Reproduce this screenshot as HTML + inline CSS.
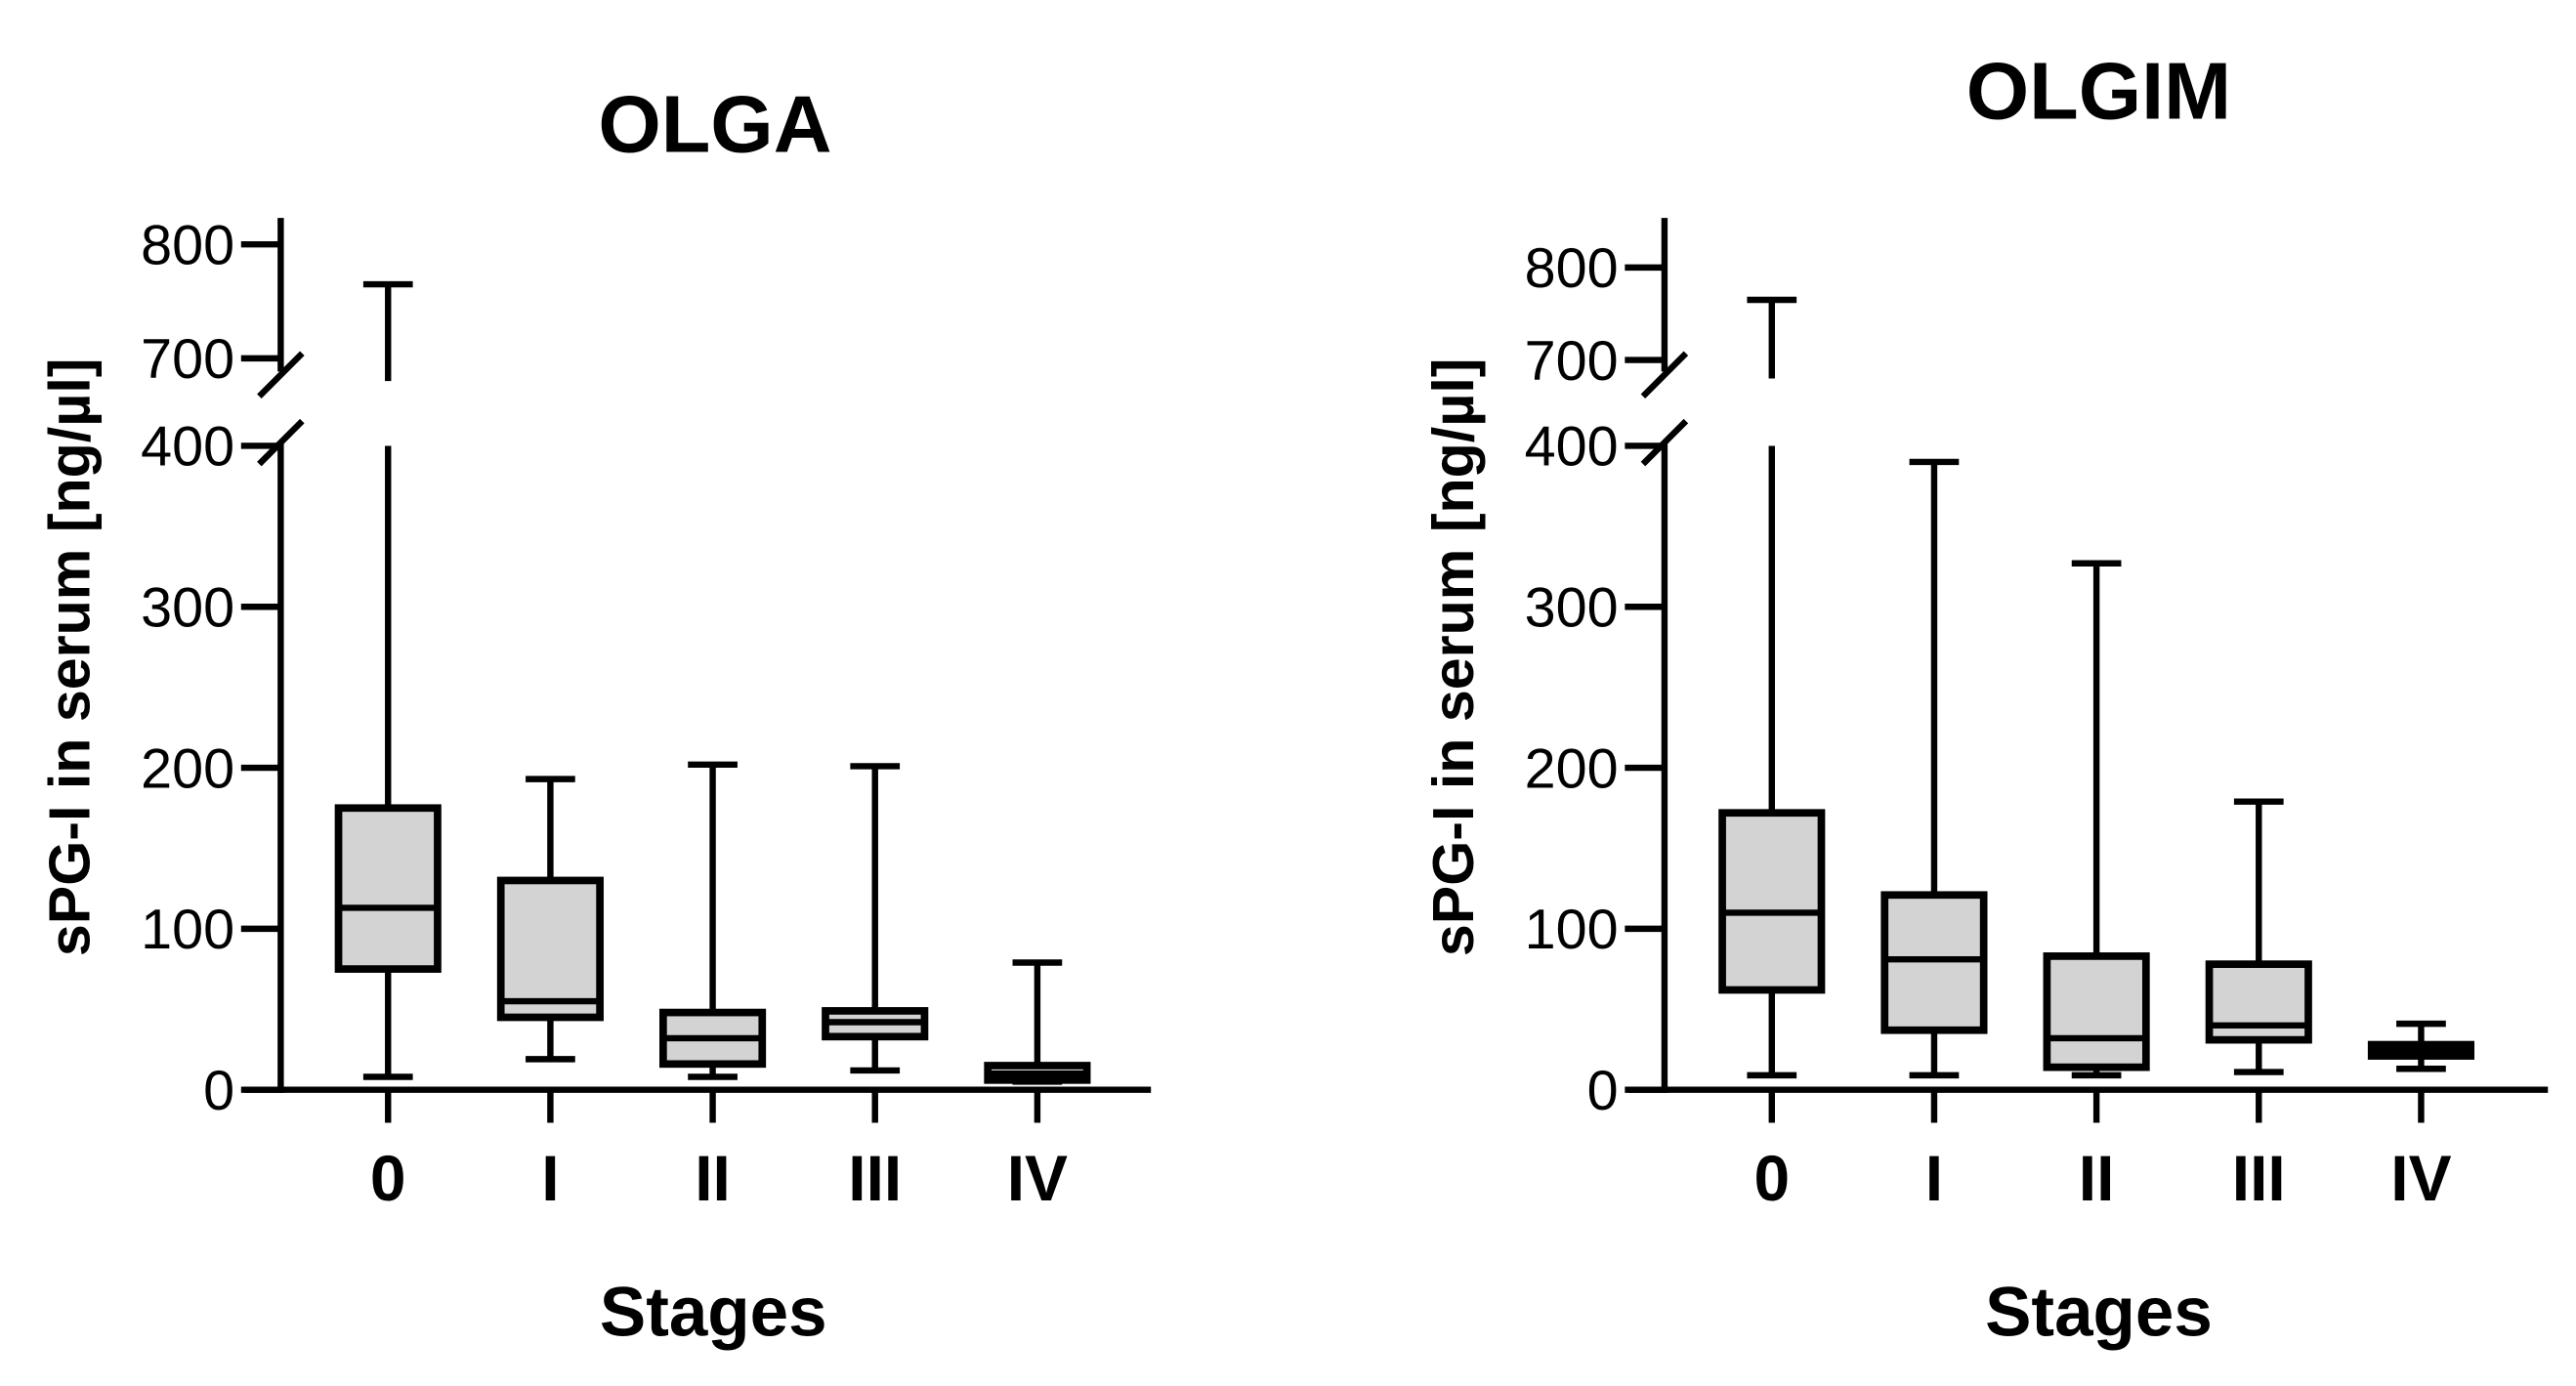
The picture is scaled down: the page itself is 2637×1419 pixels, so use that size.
<!DOCTYPE html>
<html><head><meta charset="utf-8"><style>
html,body{margin:0;padding:0;background:#fff}
svg{display:block}
text{font-family:"Liberation Sans",Arial,sans-serif;fill:#000}
</style></head><body>
<svg id="c" width="2637" height="1419" viewBox="0 0 1560 839.4"></svg>
<script>
const categories = ["0","I","II","III","IV"];
const olgaMin = [8,19,8,12,5];
const olgaQ1 = [75,45,16,33,6];
const olgaMed = [113,55,32,42,10];
const olgaQ3 = [175,130,48,49,15];
const olgaMax = [765,193,202,201,79];
const olgimMin = [9,9,9,11,13];
const olgimQ1 = [62,37,14,31,21];
const olgimMed = [110,81,32,40,25];
const olgimQ3 = [172,121,83,78,28];
const olgimMax = [765,390,327,179,41];
const lowerTicks = [0,100,200,300,400];
const upperTicks = [700,800];

const NS="http://www.w3.org/2000/svg";
const svg=document.getElementById('c');
function mk(tag,attrs,parent,text){const e=document.createElementNS(NS,tag);for(const k in attrs)e.setAttribute(k,attrs[k]);if(text!==undefined)e.textContent=text;(parent||svg).appendChild(e);return e;}

function panel(cfg,mins,q1,med,q3,maxs){
  const g=mk('g',{});
  
  
  const ax=cfg.ax, y0=660, lowScale=97.5/100;
  const yLow=v=>y0-v*lowScale;
  const yUp=v=>cfg.y700-(v-700)*cfg.upScale;
  const xC=i=>cfg.x0+i*cfg.step;
  const sw=3.8;
  const t=mk('text',{x:cfg.titleX,y:cfg.titleY,'font-size':49,'font-weight':'bold','text-anchor':'middle'},g,cfg.title);
  
  
  const ya=mk('path',{d:`M${ax},132 L${ax},225 M${ax},268 L${ax},${y0+1.9}`,stroke:'#000','stroke-width':sw,fill:'none'},g);
  
  
  const br=mk('path',{d:`M${ax-13},240 L${ax+13},214 M${ax-13},281 L${ax+13},255`,stroke:'#000','stroke-width':sw,fill:'none'},g);
  
  
  const xa=mk('line',{x1:ax-22,y1:y0,x2:cfg.xEnd,y2:y0,stroke:'#000','stroke-width':sw},g);
  
  
  lowerTicks.forEach(v=>{
    mk('line',{x1:ax-24,y1:yLow(v),x2:ax,y2:yLow(v),stroke:'#000','stroke-width':sw},g);
    const l=mk('text',{x:ax-28,y:yLow(v)+12,'font-size':34,'text-anchor':'end'},g,v);
    
    
  });
  upperTicks.forEach(v=>{
    mk('line',{x1:ax-24,y1:yUp(v),x2:ax,y2:yUp(v),stroke:'#000','stroke-width':sw},g);
    const l=mk('text',{x:ax-28,y:yUp(v)+12,'font-size':34,'text-anchor':'end'},g,v);
    
    
  });
  const yl=mk('text',{x:0,y:0,'font-size':35,'font-weight':'bold','text-anchor':'middle',transform:`translate(${cfg.ylabX},398) rotate(-90)`},g,'sPG-I in serum [ng/µl]');
  
  
  const xl=mk('text',{x:cfg.stX,y:809,'font-size':42,'font-weight':'bold','text-anchor':'middle'},g,'Stages');
  
  
  const hw=30, cap=15;
  categories.forEach((c,i)=>{
    const x=xC(i);
    mk('line',{x1:x,y1:y0,x2:x,y2:y0+20,stroke:'#000','stroke-width':sw},g);
    const cl=mk('text',{x:x,y:727,'font-size':39,'font-weight':'bold','text-anchor':'middle'},g,c);
    
    
    const bg=mk('g',{},g);
    
    
    const mx=maxs[i];
    const topLow = mx>400? yLow(400): yLow(mx);
    mk('line',{x1:x,y1:yLow(q3[i]),x2:x,y2:topLow,stroke:'#000','stroke-width':sw},bg);
    if(mx>400){
      mk('line',{x1:x,y1:yUp(680),x2:x,y2:yUp(mx),stroke:'#000','stroke-width':sw},bg);
      mk('line',{x1:x-cap,y1:yUp(mx),x2:x+cap,y2:yUp(mx),stroke:'#000','stroke-width':sw},bg);
    } else {
      mk('line',{x1:x-cap,y1:yLow(mx),x2:x+cap,y2:yLow(mx),stroke:'#000','stroke-width':sw},bg);
    }
    mk('line',{x1:x,y1:yLow(q1[i]),x2:x,y2:yLow(mins[i]),stroke:'#000','stroke-width':sw},bg);
    mk('line',{x1:x-cap,y1:yLow(mins[i]),x2:x+cap,y2:yLow(mins[i]),stroke:'#000','stroke-width':sw},bg);
    mk('rect',{x:x-hw,y:yLow(q3[i]),width:2*hw,height:yLow(q1[i])-yLow(q3[i]),fill:'#d3d3d3',stroke:'#000','stroke-width':sw*1.2},bg);
    mk('line',{x1:x-hw,y1:yLow(med[i]),x2:x+hw,y2:yLow(med[i]),stroke:'#000','stroke-width':sw},bg);
  });
}
panel({name:'olga-chart',title:'OLGA',titleX:433,titleY:92,ax:170,xEnd:697,x0:235,step:98.3,y700:217,upScale:0.69,ylabX:54,stX:432},olgaMin,olgaQ1,olgaMed,olgaQ3,olgaMax);
panel({name:'olgim-chart',title:'OLGIM',titleX:1271,titleY:72,ax:1008,xEnd:1543,x0:1073,step:98.3,y700:218,upScale:0.56,ylabX:892,stX:1271},olgimMin,olgimQ1,olgimMed,olgimQ3,olgimMax);
</script>
</body></html>
